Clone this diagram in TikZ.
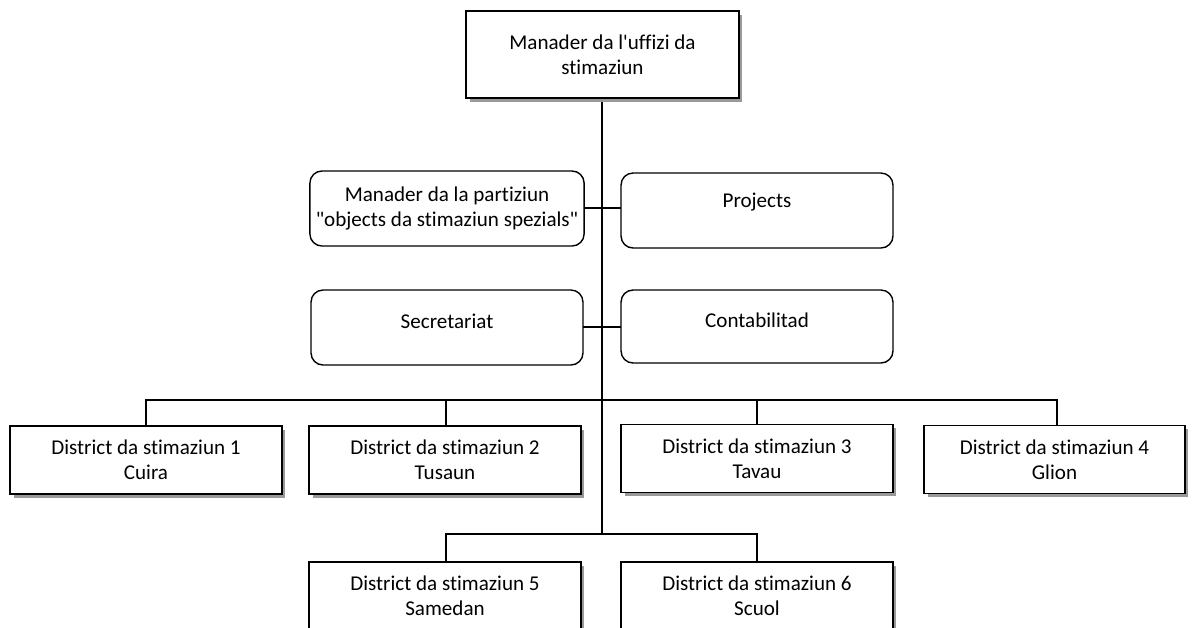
\documentclass[tikz,border=0pt]{standalone}
\usepackage{fontspec}
\setmainfont{Carlito}[Ligatures={TeXOff,NoCommon}]
\usetikzlibrary{shadows}
\begin{document}
\begin{tikzpicture}
  [x=0.02cm,y=-0.02cm,line width=0.6pt,
   every node/.style={draw,align=center,fill=white,line width=0.8pt,
     font=\fontsize{12}{14.2}\selectfont,minimum width=5.44cm},
   unit/.style={minimum height=1.36cm,
     drop shadow={shadow xshift=0.07cm,shadow yshift=-0.07cm,fill=gray!80,opacity=1}},
   staff/.style={rounded corners=0.24cm,minimum height=1.5cm}]
  \path[use as bounding box,clip] (0,0) rectangle (1195,627);

  % connectors
  \coordinate (bus) at (602,400);
  \coordinate (bus2) at (602,534);
  \draw (602,98) -- (bus2);
  \draw (583,208) -- (621,208);
  \draw (583,327) -- (621,327);
  \foreach \d/\x in {d1/146,d2/446,d3/757,d4/1057}
    \draw (\x,426) |- (bus);
  \foreach \d/\x in {d5/446,d6/757}
    \draw (\x,562) |- (bus2);

  % boxes
  \node[unit,minimum height=1.74cm,minimum width=5.46cm] (boss) at (602.5,54.5)
    {Manader da l'uffizi da\\stimaziun};
  \node[staff] (part) at (447,208.5) {Manader da la partiziun\\"objects da stimaziun spezials"};
  \node[staff,text depth=0.41cm] (proj) at (757,210.5) {Projects};
  \node[staff,text depth=0.27cm] (secr) at (447,327.5) {Secretariat};
  \node[staff,text depth=0.25cm,minimum height=1.46cm] (cont) at (757,326.5) {Contabilitad};

  \node[unit] (d1) at (146,460)   {District da stimaziun 1\\Cuira};
  \node[unit] (d2) at (445,460)   {District da stimaziun 2\\Tusaun};
  \node[unit] (d3) at (757,458.5) {District da stimaziun 3\\Tavau};
  \node[unit,minimum width=5.22cm] (d4) at (1054.5,459.5) {District da stimaziun 4\\Glion};
  \node[unit] (d5) at (445,596) {District da stimaziun 5\\Samedan};
  \node[unit] (d6) at (757,596) {District da stimaziun 6\\Scuol};

\end{tikzpicture}
\end{document}
